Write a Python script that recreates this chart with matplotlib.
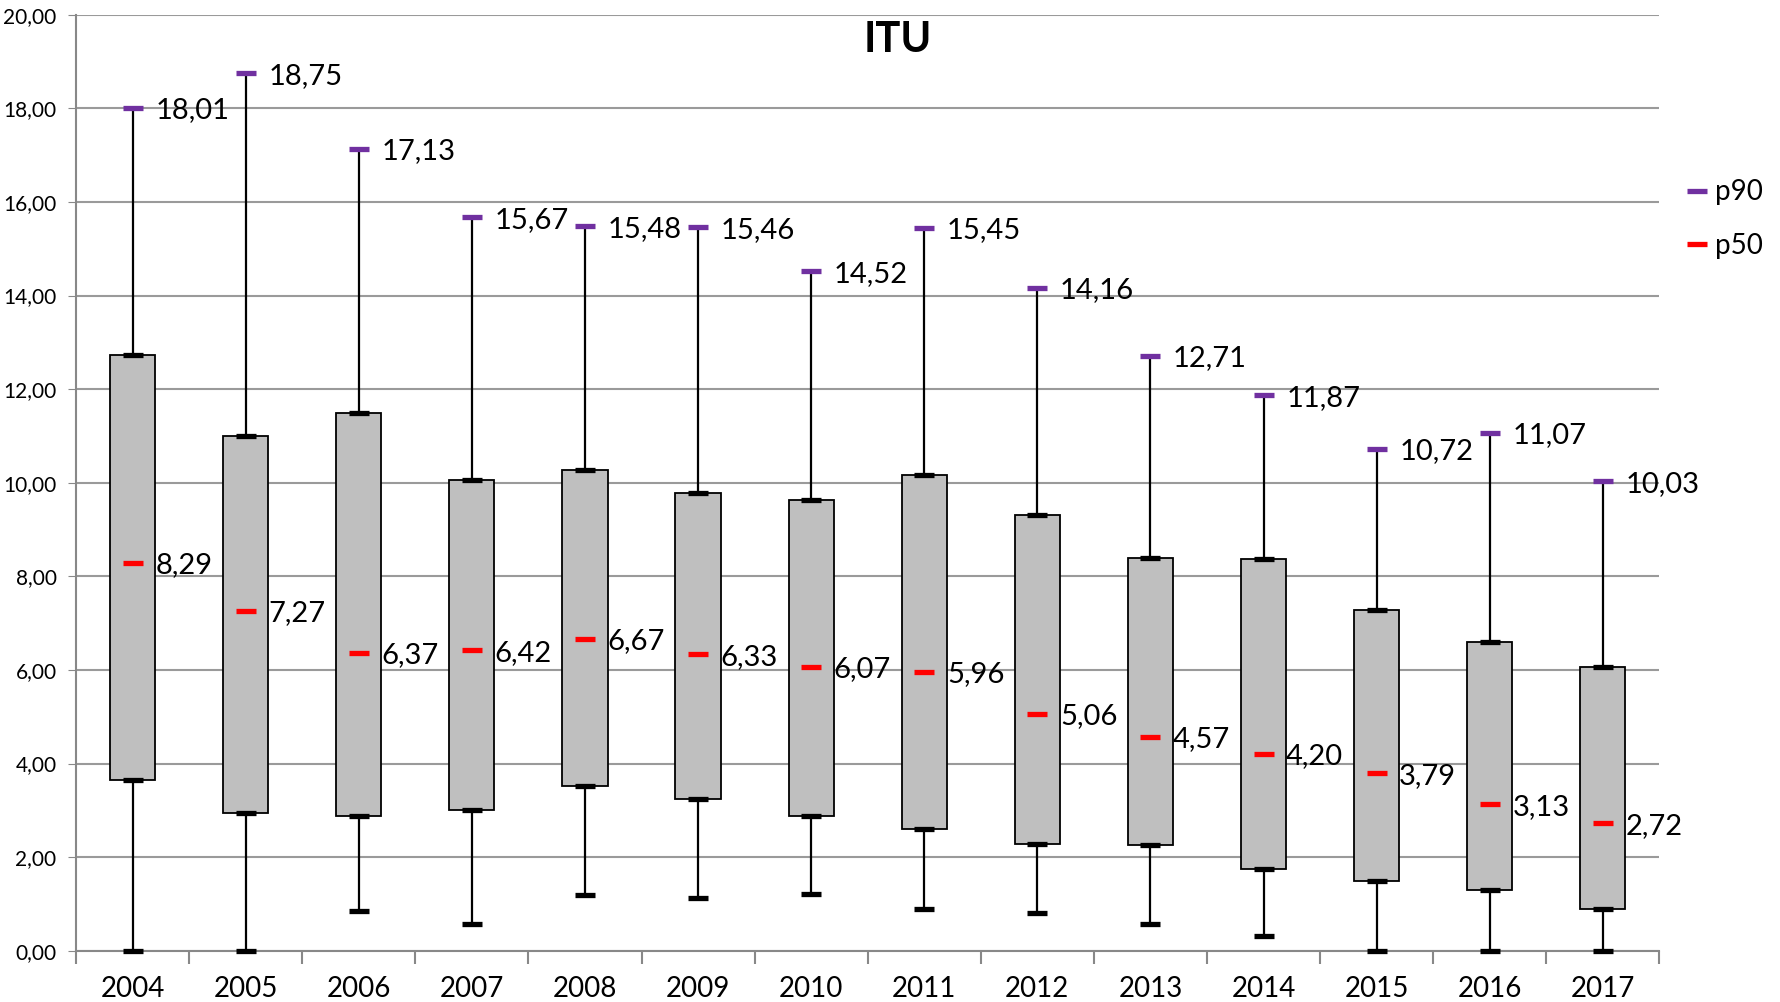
import matplotlib
matplotlib.use('Agg')
import matplotlib.pyplot as plt
from matplotlib.ticker import FuncFormatter

plt.rcParams['font.family'] = ['Lato', 'DejaVu Sans']

# valores
anos = ['2004', '2005', '2006', '2007', '2008', '2009', '2010',
        '2011', '2012', '2013', '2014', '2015', '2016', '2017']
p90 = [18.01, 18.75, 17.13, 15.67, 15.48, 15.46, 14.52,
       15.45, 14.16, 12.71, 11.87, 10.72, 11.07, 10.03]
p75 = [12.74, 11.01, 11.50, 10.06, 10.28, 9.78, 9.63,
       10.17, 9.31, 8.40, 8.38, 7.28, 6.60, 6.07]
p50 = [8.29, 7.27, 6.37, 6.42, 6.67, 6.33, 6.07,
       5.96, 5.06, 4.57, 4.20, 3.79, 3.13, 2.72]
p25 = [3.64, 2.94, 2.87, 3.01, 3.51, 3.25, 2.87,
       2.61, 2.29, 2.26, 1.75, 1.49, 1.30, 0.90]
p10 = [0.00, 0.00, 0.84, 0.58, 1.18, 1.13, 1.21,
       0.90, 0.81, 0.58, 0.31, 0.00, 0.00, 0.00]

roxo = '#7030A0'
vermelho = '#FF0000'

fig = plt.figure(figsize=(17.81, 10.02), dpi=100)
ax = fig.add_axes([0.0427, 0.0512, 0.889, 0.934])

x = list(range(len(anos)))

# whiskers (p10 -> p90)
ax.vlines(x, p10, p90, color='black', lw=1.6, zorder=2)
# caixas p25 - p75
alturas = [a - b for a, b in zip(p75, p25)]
ax.bar(x, alturas, bottom=p25, width=0.4, color='#BFBFBF',
       edgecolor='black', linewidth=1.3, zorder=3)

mk = dict(linestyle='none', marker='_', markersize=14, markeredgewidth=3.8, zorder=5)
ax.plot(x, p75, color='black', **mk)
ax.plot(x, p25, color='black', **mk)
ax.plot(x, p10, color='black', clip_on=False, **mk)
h90, = ax.plot(x, p90, color=roxo, **mk)
h50, = ax.plot(x, p50, color=vermelho, **mk)

def fmt(v):
    return f'{v:.2f}'.replace('.', ',')

for xi, v in zip(x, p90):
    ax.text(xi + 0.2, v - 0.05, fmt(v), fontsize=21, va='center', ha='left', zorder=6)
for xi, v in zip(x, p50):
    ax.text(xi + 0.2, v - 0.05, fmt(v), fontsize=21, va='center', ha='left', zorder=6)

ax.set_xlim(-0.5, len(anos) - 0.5)
ax.set_ylim(0, 20)
ax.set_yticks([0, 2, 4, 6, 8, 10, 12, 14, 16, 18, 20])
ax.yaxis.set_major_formatter(FuncFormatter(lambda v, p: fmt(v)))
ax.tick_params(axis='y', labelsize=15, length=6, color='#888888', pad=8)

# rótulos dos anos no centro, marcas entre categorias
ax.set_xticks(x)
ax.set_xticklabels(anos, fontsize=20)
ax.set_xticks([i - 0.5 for i in range(len(anos) + 1)], minor=True)
ax.tick_params(axis='x', which='major', length=0, pad=18)
ax.tick_params(axis='x', which='minor', length=9, color='#888888', width=1.5)

ax.grid(axis='y', color='#9A9A9A', lw=1.5, zorder=0)
ax.set_axisbelow(True)
for s in ['top', 'right']:
    ax.spines[s].set_visible(False)
for s in ['left', 'bottom']:
    ax.spines[s].set_color('#888888')
    ax.spines[s].set_linewidth(1.5)

fig.text(0.504, 0.960, 'ITU', fontsize=30, fontweight='bold', ha='center', va='center')

leg = ax.legend([h90, h50], ['p90', 'p50'], loc='upper left',
                bbox_to_anchor=(0.934, 0.846), bbox_transform=fig.transFigure,
                frameon=False, fontsize=20, handlelength=0.6, handletextpad=0.35,
                labelspacing=1.0)

fig.savefig('out.png', dpi=100)
